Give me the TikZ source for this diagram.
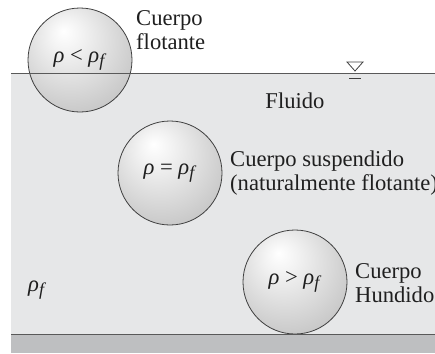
\documentclass[tikz,border=0pt]{standalone}
\usepackage{fontspec}
\setmainfont{Liberation Serif}
\pgfdeclareradialshading{sph}{\pgfpoint{-8bp}{14bp}}{%
  color(0bp)=(white);
  color(8bp)=(white!95!black);
  color(30bp)=(white!80!black);
  color(48bp)=(white!68!black);
  color(60bp)=(white!62!black)}
\newcommand{\rh}{\textit{ρ}}
\newcommand{\rf}{\textit{ρ}\raisebox{-0.4ex}{\fontsize{18}{18}\selectfont\textit{f}}}
\begin{document}
\begin{tikzpicture}[x=1pt,y=-1pt,
  every node/.style={font=\fontsize{22.6}{24.5}\selectfont, inner sep=0pt, text=black!88},
  sphere/.style={circle, draw=black!75, line width=0.8pt, shading=sph, minimum size=104pt},
  lbl/.style={anchor=west, align=left},
  line/.style={draw=black!65, line width=1pt}]
\useasboundingbox (0,0) rectangle (435,353);
% fluid and floor
\fill[fill={rgb,255:red,230;green,231;blue,232}] (11,73) rectangle (435,334);
\fill[fill={rgb,255:red,190;green,191;blue,193}] (11,334) rectangle (435,353);
% spheres
\node[sphere] (c1) at (80,60) {\rh{} < \rf};
\node[sphere] (c2) at (170,173) {\rh{} = \rf};
\node[sphere] (c3) at (295,282) {\rh{} > \rf};
% surface and bottom lines
\coordinate (s0) at (11,73); \coordinate (s1) at (435,73);
\coordinate (b0) at (11,334); \coordinate (b1) at (435,334);
\draw[line] (s0) -- (s1);
\draw[line] (b0) -- (b1);
% free surface symbol
\coordinate (t1) at (347,62); \coordinate (t2) at (363,62); \coordinate (t3) at (355,71);
\draw[black!75, line width=0.8pt] (t1) -- (t2) -- (t3) -- cycle;
\coordinate (u1) at (349,78); \coordinate (u2) at (361,78);
\draw[black!75, line width=0.8pt] (u1) -- (u2);
% labels
\node[lbl] (l1) at (136,30) {Cuerpo\\flotante};
\node[anchor=center] (fl) at (295,101) {Fluido};
\node[lbl] (l2) at (230,173) {Cuerpo suspendido\\(naturalmente flotante)};
\node[lbl] (l3) at (355,283) {Cuerpo\\Hundido};
\node[lbl] (rho) at (28,290) {\rf};
\end{tikzpicture}
\end{document}
